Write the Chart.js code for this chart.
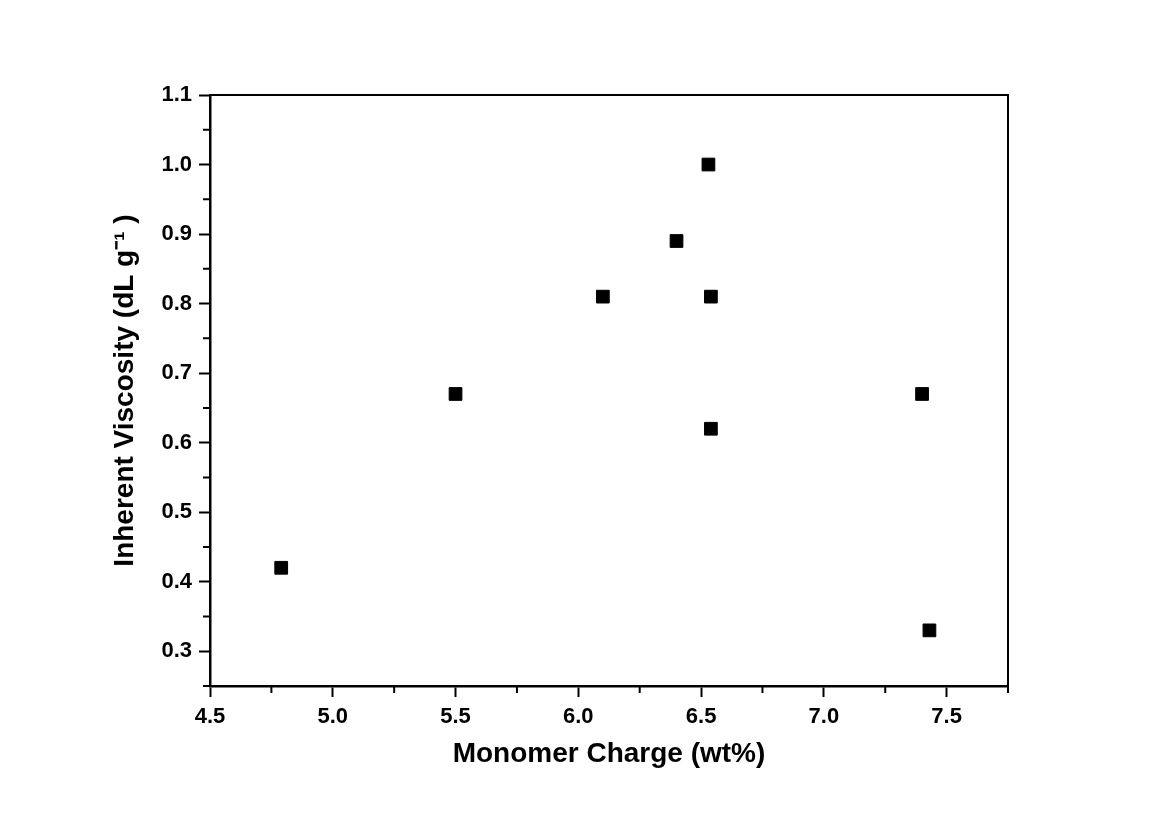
<!DOCTYPE html>
<html>
<head>
<meta charset="utf-8">
<script src="https://cdn.jsdelivr.net/npm/chart.js@4.4.0/dist/chart.umd.min.js"></script>
<style>
  html, body { margin: 0; padding: 0; background: #fff; }
  #wrap { width: 1151px; height: 817px; position: relative; }
</style>
</head>
<body>
<div id="wrap"><canvas id="chart"></canvas></div>
<script>
// data
const monomerCharge = [4.79, 5.5, 6.1, 6.4, 6.53, 6.54, 6.54, 7.4, 7.43];
const viscosity = [0.42, 0.67, 0.81, 0.89, 1.0, 0.81, 0.62, 0.67, 0.33];

const xTicks = [4.5, 5.0, 5.5, 6.0, 6.5, 7.0, 7.5];
const xMinor = [4.75, 5.25, 5.75, 6.25, 6.75, 7.25, 7.75];
const yTicks = [0.3, 0.4, 0.5, 0.6, 0.7, 0.8, 0.9, 1.0, 1.1];
const yMinor = [0.25, 0.35, 0.45, 0.55, 0.65, 0.75, 0.85, 0.95, 1.05];

const points = monomerCharge.map((x, i) => ({ x: x, y: viscosity[i] }));

// frame on top/right + minor ticks
const frameAndMinor = {
    id: 'frameAndMinor',
    afterDraw(chart) {
        const ctx = chart.ctx;
        const a = chart.chartArea;
        const xs = chart.scales.x, ys = chart.scales.y;
        ctx.save();
        ctx.strokeStyle = '#000';
        ctx.lineWidth = 2;
        ctx.strokeRect(a.left, a.top, a.right - a.left, a.bottom - a.top);
        ctx.beginPath();
        xMinor.forEach(v => {
            const px = xs.getPixelForValue(v);
            ctx.moveTo(px, a.bottom);
            ctx.lineTo(px, a.bottom + 7);
        });
        yMinor.forEach(v => {
            const py = ys.getPixelForValue(v);
            ctx.moveTo(a.left, py);
            ctx.lineTo(a.left - 7, py);
        });
        ctx.stroke();
        ctx.restore();
    }
};

const tickFont = { family: 'Liberation Sans, Arial, sans-serif', size: 22, weight: 'bold' };
const titleFont = { family: 'Liberation Sans, Arial, sans-serif', size: 28, weight: 'bold' };

new Chart(document.getElementById('chart'), {
    type: 'scatter',
    data: {
        datasets: [{
            data: points,
            pointStyle: 'rect',
            pointRadius: 9,
            pointHoverRadius: 9,
            backgroundColor: '#000',
            borderColor: '#000',
            borderWidth: 1
        }]
    },
    options: {
        responsive: true,
        maintainAspectRatio: false,
        animation: false,
        layout: { padding: { left: 104, right: 143, top: 95, bottom: 42 } },
        plugins: { legend: { display: false }, tooltip: { enabled: false } },
        scales: {
            x: {
                type: 'linear',
                min: 4.5,
                max: 7.75,
                afterBuildTicks: s => { s.ticks = xTicks.map(v => ({ value: v })); },
                afterFit: s => { s.height = 89; },
                grid: { display: true, drawOnChartArea: false, drawTicks: true, tickLength: 11, tickWidth: 2, tickColor: '#000' },
                border: { display: true, color: '#000', width: 2.5 },
                ticks: { color: '#000', font: tickFont, padding: 7, maxRotation: 0, callback: v => v.toFixed(1) },
                title: { display: true, text: 'Monomer Charge (wt%)', color: '#000', font: titleFont, padding: { top: 4, bottom: 4 } }
            },
            y: {
                type: 'linear',
                min: 0.25,
                max: 1.1,
                afterBuildTicks: s => { s.ticks = yTicks.map(v => ({ value: v })); },
                afterFit: s => { s.width = 106; },
                grid: { display: true, drawOnChartArea: false, drawTicks: true, tickLength: 11, tickWidth: 2, tickColor: '#000' },
                border: { display: true, color: '#000', width: 2.5 },
                ticks: { color: '#000', font: tickFont, padding: 7, callback: v => v.toFixed(1) },
                title: { display: true, text: 'Inherent Viscosity (dL g\u207B\u00B9 )', color: '#000', font: titleFont, padding: { top: 4, bottom: 4 } }
            }
        }
    },
    plugins: [frameAndMinor]
});
</script>
</body>
</html>
